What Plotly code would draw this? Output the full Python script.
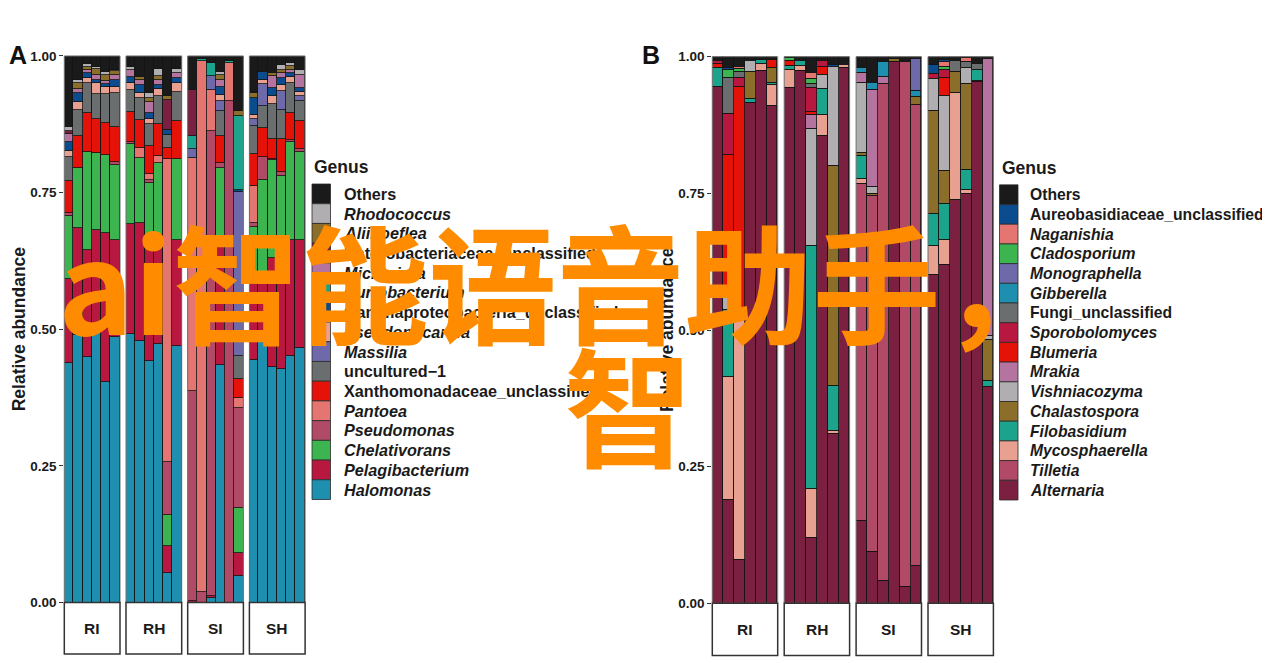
import plotly.graph_objects as go

# page placement of the figure inside the photographed window (measured):
# window_x = X_OFF + fig_x ; window_y = Y_OFF + Y_SCALE * fig_y
X_OFF, Y_OFF, Y_SCALE = 8.0, 15.0, 0.978
W, H = 1262, 663

# ---------------- Panel A data (RI1-6, RH1-6, SI1-6, SH1-6) ----------------
A_GENUS = ["Halomonas", "Pelagibacterium", "Chelativorans", "Pseudomonas", "Pantoea",
           "Xanthomonadaceae_unclassified", "uncultured\u22121", "Massilia", "Pseudonocardia",
           "Gammaproteobacteria_unclassified", "Curtobacterium", "Microvirga",
           "Enterobacteriaceae_unclassified", "Aliihoeflea", "Rhodococcus", "Others"]
A_COLORS = ["#1f8fb0", "#b8173f", "#3cb550", "#b04a66", "#e57570", "#e5120a", "#6b6e6e",
            "#6e6aaa", "#e8a090", "#0b4c8f", "#1ba38c", "#b573a0", "#7b2040", "#8b6e2a",
            "#b0aeb0", "#1a1a1a"]
A_ITALIC = [True, True, True, True, True, False, False, True, True, False, True, True,
            False, True, True, False]

A_HALOMONAS = [.439, .490, .450, .493, .403, .486, .492, .478, .442, .473, .055, .470,
               0, 0, .008, .435, 0, .049, .444, .480, .432, .427, .452, .466]
A_PELAGIBACTERIUM = [.153, .195, .195, .188, .273, .178, .201, .216, .209, .199, .049, .194,
                     .003, 0, .004, .222, 0, .042, .146, .125, .198, .213, .212, .198]
A_CHELATIVORANS = [.115, .110, .180, .141, .142, .137, .146, .119, .117, .132, .057, .148,
                   0, 0, 0, .139, 0, .083, .098, .168, .179, .141, .178, .161]
A_PSEUDOMONAS = [.006, 0, 0, 0, 0, .005, .004, 0, .005, 0, .097, 0,
                 .385, .020, .851, .009, .918, .183, .007, .042, .003, .006, .004, .004]
A_PANTOEA = [0, 0, 0, 0, 0, 0, 0, .019, .012, .013, .553, 0,
             .425, .970, .075, 0, .069, .018, .068, 0, 0, 0, 0, 0]
A_XANTHOMONADACEAE = [.059, .059, .070, .063, .060, .065, .054, .051, .051, .058, .020, .069,
                      0, 0, 0, .049, 0, .034, .057, .053, .036, .061, .050, .052]
A_UNCULTURED = [.044, .048, .055, .045, .052, .061, .041, .041, .039, .052, .025, .054,
                0, 0, 0, .046, 0, .043, .052, .041, .064, .054, .054, .037]
A_MASSILIA = [0, 0, 0, 0, 0, 0, 0, 0, 0, 0, 0, 0,
              .016, 0, .025, .017, 0, .300, .013, .040, 0, .034, 0, .008]
A_PSEUDONOCARDIA = [.010, .013, .010, .020, .013, .012, .012, .009, .010, .012, 0, .015,
                    0, 0, 0, .012, 0, 0, .007, .007, .014, .011, .011, .009]
A_GAMMAPROTEO = [.016, .017, .008, .007, .005, .013, .011, .014, .010, .008, .009, .009,
                 0, 0, 0, .015, 0, .003, .031, .015, .015, .012, .007, .006]
A_CURTOBACTERIUM = [0, 0, 0, 0, 0, 0, 0, 0, 0, 0, 0, 0,
                    .025, .004, .025, 0, .003, .135, 0, 0, 0, 0, 0, 0]
A_MICROVIRGA = [.015, .007, .006, .009, .007, .009, .013, .009, .020, .010, 0, .009,
                0, 0, 0, .012, 0, 0, 0, 0, .022, .009, .006, .024]
A_ENTEROBACTERIACEAE = [.005, 0, 0, 0, 0, 0, 0, 0, 0, 0, .055, 0,
                        .083, 0, 0, 0, 0, 0, 0, 0, 0, 0, 0, 0]
A_ALIIHOEFLEA = [0, .011, .005, .011, .011, .007, 0, .006, .009, .006, .006, 0,
                 0, 0, 0, .009, 0, .009, .009, 0, .005, .006, .008, 0]
A_RHODOCOCCUS = [.008, .006, .006, .003, .005, .002, .006, 0, .008, .014, 0, .008,
                 0, 0, 0, .006, 0, 0, 0, 0, 0, .009, .005, .009]
A_OTHERS = [.130, .044, .015, .020, .029, .025, .020, .038, .068, .023, .074, .024,
            .063, .006, .012, .029, .010, .101, .068, .029, .032, .017, .013, .026]
A_VALUES = [A_HALOMONAS, A_PELAGIBACTERIUM, A_CHELATIVORANS, A_PSEUDOMONAS, A_PANTOEA,
            A_XANTHOMONADACEAE, A_UNCULTURED, A_MASSILIA, A_PSEUDONOCARDIA, A_GAMMAPROTEO,
            A_CURTOBACTERIUM, A_MICROVIRGA, A_ENTEROBACTERIACEAE, A_ALIIHOEFLEA,
            A_RHODOCOCCUS, A_OTHERS]

# ---------------- Panel B data ----------------
B_GENUS = ["Alternaria", "Tilletia", "Mycosphaerella", "Filobasidium", "Chalastospora",
           "Vishniacozyma", "Mrakia", "Blumeria", "Sporobolomyces", "Fungi_unclassified",
           "Gibberella", "Monographella", "Cladosporium", "Naganishia",
           "Aureobasidiaceae_unclassified", "Others"]
B_COLORS = ["#7b2040", "#b04a66", "#e8a090", "#1ba38c", "#8b6e2a", "#b0aeb0", "#b573a0",
            "#e5120a", "#b8173f", "#6b6e6e", "#1f8fb0", "#6e6aaa", "#3cb550", "#e57570",
            "#0b4c8f", "#1a1a1a"]
B_ITALIC = [True, True, True, True, True, True, True, True, True, False, True, True,
            True, True, False, False]

B_ALTERNARIA = [.945, .190, .080, .915, .974, .910, .943, .974, .121, .855, .310, .980,
                .152, .094, .041, .991, .030, .069, .601, .619, .738, .750, .954, .396]
B_TILLETIA = [0, 0, 0, 0, 0, 0, 0, 0, 0, 0, 0, 0,
              .616, .652, .910, 0, .961, .843, 0, 0, 0, 0, 0, 0]
B_MYCOSPHAERELLA = [0, .225, .438, 0, .014, .038, .033, .009, .089, .039, .005, .005,
                    .008, 0, 0, 0, 0, 0, .053, .046, .196, .007, .003, 0]
B_FILOBASIDIUM = [.034, .122, 0, .008, .007, .004, .007, .010, .444, .047, .083, 0,
                  .043, 0, 0, 0, 0, 0, .058, .067, 0, .037, .020, .011]
B_CHALASTOSPORA = [0, 0, 0, .050, 0, .027, 0, 0, 0, 0, .402, 0,
                   .005, .004, 0, .005, 0, .015, .190, .059, .039, .157, 0, .076]
B_VISHNIACOZYMA = [0, .025, 0, .020, 0, 0, 0, 0, .215, .026, .182, 0,
                   .128, .013, 0, 0, 0, 0, .057, .137, 0, .028, 0, .006]
B_MRAKIA = [0, 0, 0, 0, 0, 0, 0, 0, .024, 0, 0, 0,
            .019, .176, .012, 0, 0, 0, 0, 0, 0, 0, 0, .507]
B_BLUMERIA = [.008, .259, .427, 0, 0, .016, .009, 0, .006, .015, 0, 0,
              0, 0, 0, 0, 0, 0, 0, .034, 0, 0, 0, 0]
B_SPOROBOLOMYCES = [.006, .074, .017, 0, 0, 0, 0, 0, .044, .011, 0, 0,
                    0, 0, 0, 0, 0, 0, .009, .014, 0, 0, 0, 0]
B_FUNGI = [0, .067, .011, 0, 0, 0, 0, 0, .007, 0, 0, 0,
           0, 0, 0, 0, 0, 0, 0, 0, .020, .012, .011, 0]
B_GIBBERELLA = [0, 0, 0, 0, 0, 0, 0, 0, 0, 0, 0, 0,
                .008, .013, .028, 0, 0, .010, 0, 0, 0, 0, 0, 0]
B_MONOGRAPHELLA = [0, 0, 0, 0, 0, 0, 0, 0, 0, 0, 0, 0,
                   0, 0, 0, 0, 0, .060, 0, 0, 0, 0, 0, 0]
B_CLADOSPORIUM = [0, .015, .005, 0, 0, 0, .006, 0, .010, 0, 0, 0,
                  0, 0, 0, 0, 0, 0, 0, .006, 0, 0, 0, 0]
B_NAGANISHIA = [0, 0, .004, 0, 0, 0, 0, 0, .010, 0, 0, 0,
                0, 0, 0, 0, 0, 0, 0, .009, 0, .008, 0, 0]
B_AUREOBASIDIACEAE = [0, .003, 0, 0, 0, 0, 0, 0, 0, 0, .004, 0,
                      0, 0, 0, 0, 0, 0, .017, .004, 0, 0, 0, 0]
B_OTHERS = [.007, .020, .018, .007, .005, .005, .002, .007, .030, .007, .014, .015,
            .021, .048, .009, .004, .009, .003, .015, .005, .007, .001, .012, .004]
B_VALUES = [B_ALTERNARIA, B_TILLETIA, B_MYCOSPHAERELLA, B_FILOBASIDIUM, B_CHALASTOSPORA,
            B_VISHNIACOZYMA, B_MRAKIA, B_BLUMERIA, B_SPOROBOLOMYCES, B_FUNGI, B_GIBBERELLA,
            B_MONOGRAPHELLA, B_CLADOSPORIUM, B_NAGANISHIA, B_AUREOBASIDIACEAE, B_OTHERS]

GROUPS = ["RI", "RH", "SI", "SH"]
SAMPLES_PER_GROUP = 6
Y_TICKS = [0, 0.25, 0.5, 0.75, 1.0]
Y_TICKTEXT = ["0.00", "0.25", "0.50", "0.75", "1.00"]

FONT = "Liberation Sans, Arial, sans-serif"


def px(x):
    """window pixel x -> paper fraction"""
    return (x - X_OFF) / W


def py(y):
    """window pixel y -> paper fraction"""
    return 1 - ((y - Y_OFF) / Y_SCALE) / H


fig = go.Figure()
shapes = []
annotations = []

PANELS = [
    dict(name="A", genus=A_GENUS, colors=A_COLORS, italic=A_ITALIC, values=A_VALUES,
         x0=64.3, fw=55.7, step=61.7, ytop=56.0, ybot=603.0, strip_bot=654.5,
         yaxis="y", leg_x=312.0, leg_w=18.5, leg_text_x=341.5, leg_y0=194.0, leg_dy=19.73,
         title_x=311.5, title_y=167.0, ytitle_x=19.0, label_x=18.0, leg_font=16.2),
    dict(name="B", genus=B_GENUS, colors=B_COLORS, italic=B_ITALIC, values=B_VALUES,
         x0=712.3, fw=65.4, step=71.9, ytop=56.7, ybot=603.7, strip_bot=656.0,
         yaxis="y2", leg_x=999.5, leg_w=18.5, leg_text_x=1028.0, leg_y0=194.8, leg_dy=19.71,
         title_x=1000.0, title_y=168.0, ytitle_x=667.0, label_x=651.0, leg_font=15.7),
]

axis_idx = 0
for p_i, P in enumerate(PANELS):
    ydom = [py(P["ybot"]), py(P["ytop"])]
    yname = "yaxis" if P["yaxis"] == "y" else "yaxis2"
    first_x = None
    for g, grp in enumerate(GROUPS):
        axis_idx += 1
        xa = "x" if axis_idx == 1 else f"x{axis_idx}"
        xname = "xaxis" if axis_idx == 1 else f"xaxis{axis_idx}"
        if first_x is None:
            first_x = xa
        xl = P["x0"] + g * P["step"]
        xr = xl + P["fw"]
        fig.layout[xname] = dict(domain=[px(xl), px(xr)], range=[-0.5, 5.5], anchor=P["yaxis"],
                                 visible=False, fixedrange=True)
        for k, gname in enumerate(P["genus"]):
            vals = P["values"][k][g * SAMPLES_PER_GROUP:(g + 1) * SAMPLES_PER_GROUP]
            vals = [v if v > 0 else None for v in vals]
            fig.add_trace(go.Bar(
                x=list(range(SAMPLES_PER_GROUP)), y=vals, xaxis=xa, yaxis=P["yaxis"],
                name=gname, showlegend=False, width=1.0,
                marker=dict(color=P["colors"][k], line=dict(color="#141414", width=0.8)),
            ))
        # facet border
        shapes.append(dict(type="rect", xref="paper", yref="paper", x0=px(xl), x1=px(xr),
                           y0=py(P["ybot"]), y1=py(P["ytop"]), line=dict(color="#6f6f6f", width=1),
                           fillcolor="rgba(0,0,0,0)", layer="above"))
        # strip
        shapes.append(dict(type="rect", xref="paper", yref="paper", x0=px(xl), x1=px(xr),
                           y0=py(P["strip_bot"]), y1=py(P["ybot"]), line=dict(color="#333333", width=1.5),
                           fillcolor="white", layer="above"))
        annotations.append(dict(text=grp, xref="paper", yref="paper", x=px((xl + xr) / 2),
                                y=py((P["ybot"] + P["strip_bot"]) / 2), showarrow=False,
                                xanchor="center", yanchor="middle",
                                font=dict(family=FONT, size=15.5, color="#1a1a1a", weight="bold")))
    fig.layout[yname] = dict(domain=ydom, range=[0, 1], anchor=first_x, tickvals=Y_TICKS,
                             ticktext=Y_TICKTEXT, ticks="outside", ticklen=4, tickwidth=1,
                             tickcolor="#333333", showgrid=False, zeroline=False, showline=False,
                             tickfont=dict(family=FONT, size=13.5, color="#1a1a1a", weight="bold"),
                             fixedrange=True)
    # y axis title
    annotations.append(dict(text="Relative abundance", xref="paper", yref="paper",
                            x=px(P["ytitle_x"]), y=py((P["ytop"] + P["ybot"]) / 2), textangle=-90,
                            showarrow=False, xanchor="center", yanchor="middle",
                            font=dict(family=FONT, size=17.5, color="#1a1a1a", weight="bold")))
    # panel label
    annotations.append(dict(text=P["name"], xref="paper", yref="paper", x=px(P["label_x"]),
                            y=py(55), showarrow=False, xanchor="center", yanchor="middle",
                            font=dict(family=FONT, size=25, color="#111111", weight="bold")))
    # legend
    annotations.append(dict(text="Genus", xref="paper", yref="paper", x=px(P["title_x"]),
                            y=py(P["title_y"]), showarrow=False, xanchor="left", yanchor="middle",
                            font=dict(family=FONT, size=17.5, color="#1a1a1a", weight="bold")))
    n = len(P["genus"])
    for r in range(n):
        k = n - 1 - r  # Others first (top of stack)
        yc = P["leg_y0"] + r * P["leg_dy"]
        shapes.append(dict(type="rect", xref="paper", yref="paper", x0=px(P["leg_x"]),
                           x1=px(P["leg_x"] + P["leg_w"]), y0=py(yc + P["leg_dy"] / 2),
                           y1=py(yc - P["leg_dy"] / 2), fillcolor=P["colors"][k],
                           line=dict(color="#2a2a2a", width=0.8), layer="above"))
        label = P["genus"][k]
        if P["italic"][k]:
            label = f"<i>{label}</i>"
        annotations.append(dict(text=label, xref="paper", yref="paper", x=px(P["leg_text_x"]),
                                y=py(yc), showarrow=False, xanchor="left", yanchor="middle",
                                font=dict(family=FONT, size=P["leg_font"], color="#1a1a1a",
                                          weight="bold")))

# watermark text overlay
WATERMARK_1 = "ai智能语音助手，"
WATERMARK_2 = "智"
annotations.append(dict(text=WATERMARK_1, xref="paper", yref="paper", x=px(56), y=py(280),
                        showarrow=False, xanchor="left", yanchor="middle",
                        font=dict(family="Noto Sans CJK SC", size=128, color="#ff8c00", weight="bold")))
annotations.append(dict(text=WATERMARK_2, xref="paper", yref="paper", x=px(628), y=py(403),
                        showarrow=False, xanchor="center", yanchor="middle",
                        font=dict(family="Noto Sans CJK SC", size=128, color="#ff8c00", weight="bold")))

fig.update_layout(
    width=W, height=H, margin=dict(l=0, r=0, t=0, b=0), barmode="stack", bargap=0,
    plot_bgcolor="white", paper_bgcolor="white", showlegend=False,
    shapes=shapes, annotations=annotations, font=dict(family=FONT),
)

fig.write_html("out.html")
